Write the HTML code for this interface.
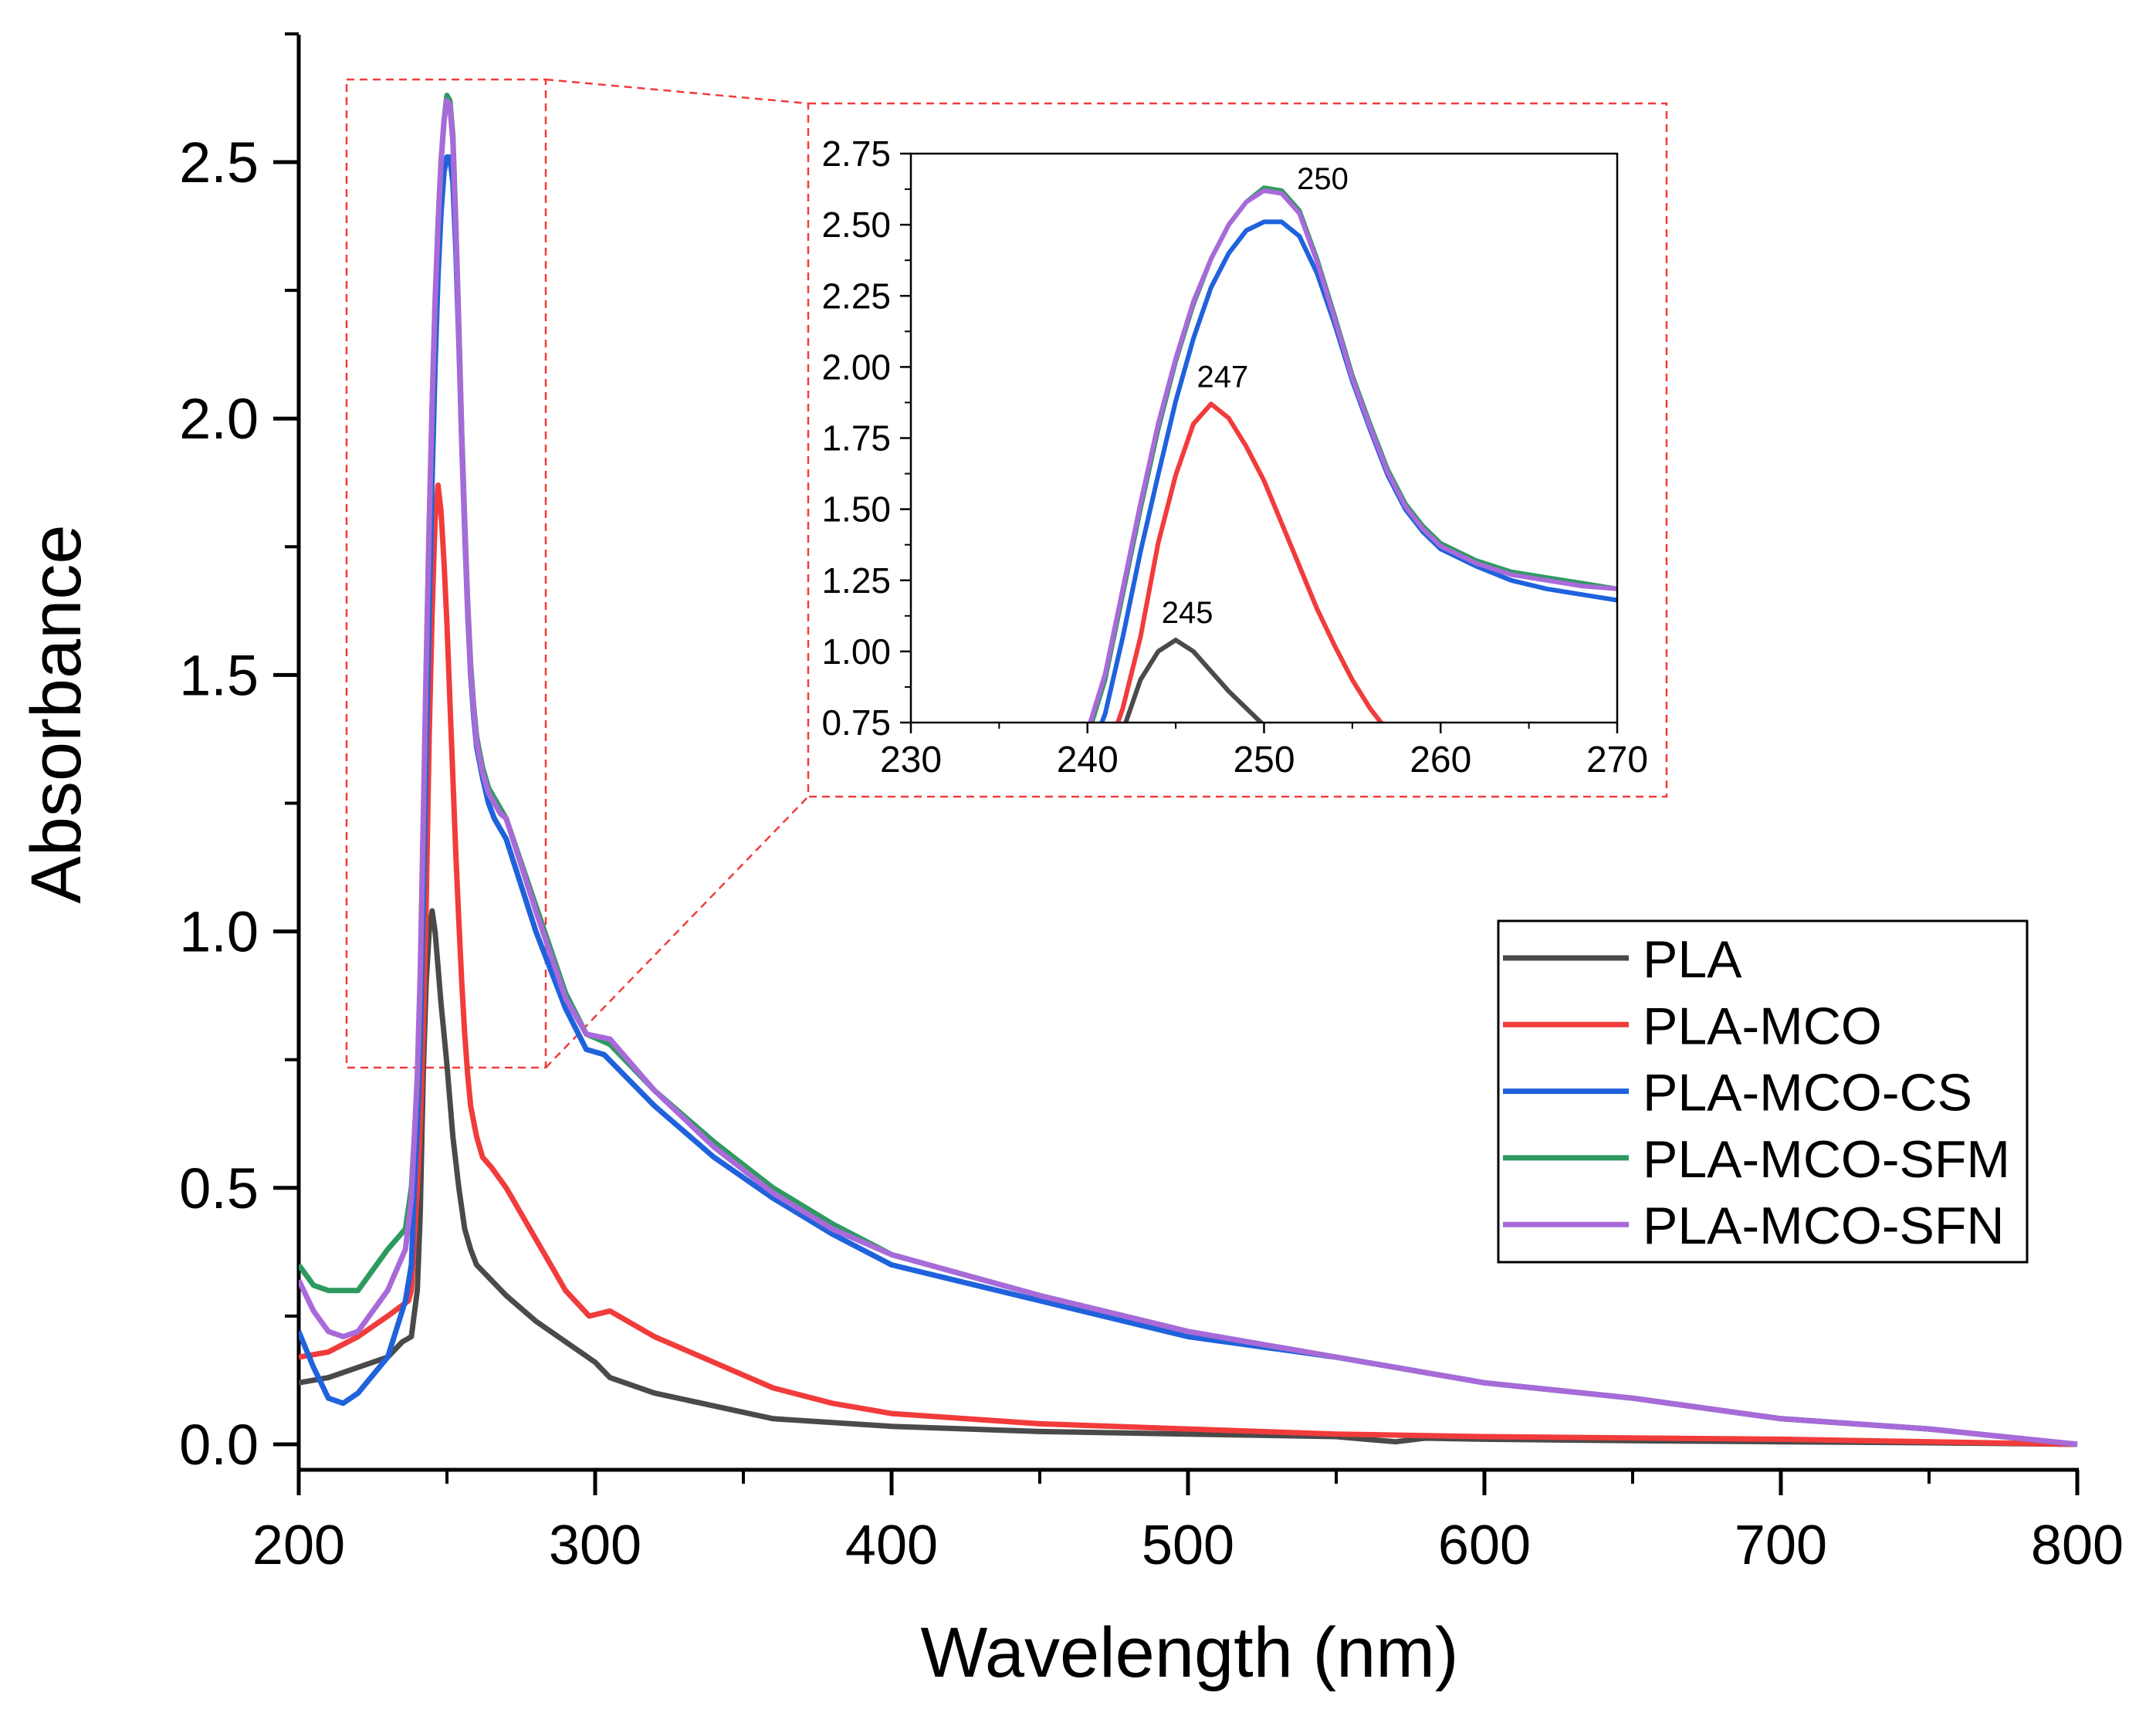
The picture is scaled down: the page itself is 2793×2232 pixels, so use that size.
<!DOCTYPE html>
<html><head><meta charset="utf-8">
<style>
html,body{margin:0;padding:0;background:#fff;}
svg{display:block;font-family:"Liberation Sans",Arial,sans-serif;}
</style></head>
<body>
<svg id="chart" width="2793" height="2232" viewBox="0 0 2793 2232" xmlns="http://www.w3.org/2000/svg">
<defs>
<clipPath id="mainClip"><rect x="387" y="45" width="2305" height="1859"/></clipPath>
<clipPath id="insetClip"><rect x="1180" y="199" width="915" height="737"/></clipPath>
</defs>
<g id="main"></g>
<g id="inset"></g>
<g id="legend"></g>
</svg>
<script>
// ---- Data ----
const seriesNames = ["PLA","PLA-MCO","PLA-MCO-CS","PLA-MCO-SFM","PLA-MCO-SFN"];
const seriesColors = ["#4a4a4a","#f23b3b","#1f62dc","#2e9a60","#a96ad9"];
const wlPLA = [200,210,220,230,235,238,240,241,242,243,244,245,246,247,248,249,250,252,254,256,258,260,270,280,290,300,305,320,340,360,400,450,500,550,570,580,600,650,700,750,800];
const absPLA = [0.12,0.13,0.15,0.17,0.2,0.21,0.3,0.45,0.72,0.9,1.0,1.04,1.0,0.93,0.86,0.8,0.74,0.6,0.5,0.42,0.38,0.35,0.29,0.24,0.2,0.16,0.13,0.1,0.075,0.05,0.035,0.025,0.02,0.015,0.005,0.012,0.01,0.007,0.005,0.003,0.0];
const wlMCO = [200,210,220,230,237,238,240,241,242,243,244,245,246,247,248,249,250,251,252,253,254,255,256,257,258,260,262,265,270,280,290,298,305,320,340,360,380,400,450,500,550,600,700,800];
const absMCO = [0.17,0.18,0.21,0.25,0.28,0.3,0.5,0.62,0.8,1.05,1.38,1.62,1.8,1.87,1.82,1.72,1.6,1.45,1.3,1.15,1.02,0.9,0.8,0.72,0.66,0.6,0.56,0.54,0.5,0.4,0.3,0.25,0.26,0.21,0.16,0.11,0.08,0.06,0.04,0.03,0.02,0.015,0.01,0.0];
const wlCS = [200,205,210,215,220,230,236,238,239,240,241,242,243,244,245,246,247,248,249,250,251,252,253,254,255,256,257,258,259,260,262,264,266,268,270,280,290,297,303,320,340,360,380,400,450,500,550,600,650,700,750,800];
const absCS = [0.22,0.15,0.09,0.08,0.1,0.17,0.28,0.35,0.5,0.62,0.78,1.05,1.35,1.62,1.88,2.1,2.28,2.4,2.48,2.51,2.51,2.46,2.33,2.15,1.95,1.78,1.62,1.5,1.42,1.36,1.3,1.25,1.22,1.2,1.18,1.0,0.85,0.77,0.76,0.66,0.56,0.48,0.41,0.35,0.28,0.21,0.17,0.12,0.09,0.05,0.03,0.0];
const wlSFM = [200,205,210,220,230,236,238,239,240,241,242,243,244,245,246,247,248,249,250,251,252,253,254,255,256,257,258,259,260,262,264,266,268,270,280,290,297,305,320,340,360,380,400,450,500,550,600,650,700,750,800];
const absSFM = [0.35,0.31,0.3,0.3,0.38,0.42,0.5,0.6,0.7,0.9,1.2,1.5,1.78,2.02,2.22,2.38,2.5,2.58,2.63,2.62,2.55,2.38,2.18,1.97,1.8,1.64,1.52,1.44,1.38,1.32,1.28,1.26,1.24,1.22,1.05,0.88,0.8,0.78,0.69,0.59,0.5,0.43,0.37,0.29,0.22,0.17,0.12,0.09,0.05,0.03,0.0];
const wlSFN = [200,205,210,215,220,230,236,238,239,240,241,242,243,244,245,246,247,248,249,250,251,252,253,254,255,256,257,258,259,260,262,264,266,268,270,280,290,297,305,320,340,360,380,400,450,500,550,600,650,700,750,800];
const absSFN = [0.32,0.26,0.22,0.21,0.22,0.3,0.38,0.48,0.6,0.72,0.92,1.22,1.52,1.8,2.03,2.23,2.38,2.5,2.58,2.62,2.61,2.54,2.37,2.17,1.96,1.79,1.63,1.51,1.43,1.37,1.31,1.27,1.25,1.23,1.22,1.04,0.87,0.8,0.79,0.69,0.58,0.49,0.42,0.37,0.29,0.22,0.17,0.12,0.09,0.05,0.03,0.0];
const seriesX = [wlPLA,wlMCO,wlCS,wlSFM,wlSFN];
const seriesY = [absPLA,absMCO,absCS,absSFM,absSFN];
const xTicks = [200,300,400,500,600,700,800];
const yTicks = [0.0,0.5,1.0,1.5,2.0,2.5];
const yTickLabels = ["0.0","0.5","1.0","1.5","2.0","2.5"];
const insetXTicks = [230,240,250,260,270];
const insetYTicks = [0.75,1.0,1.25,1.5,1.75,2.0,2.25,2.5,2.75];
const insetYLabels = ["0.75","1.00","1.25","1.50","1.75","2.00","2.25","2.50","2.75"];
const peakLabels = ["245","247","250"];
const peakX = [245,247,250];
const peakY = [1.04,1.87,2.63];

const NS="http://www.w3.org/2000/svg";
function mk(parent,tag,attrs,txt){const e=document.createElementNS(NS,tag);for(const k in attrs)e.setAttribute(k,attrs[k]);if(txt!==undefined)e.textContent=txt;parent.appendChild(e);return e;}

// ---- Main axes ----
const X0=387,X1=2691,Y0=1871,YT=210,TOP=45,BOT=1904;
const xs=v=>X0+(v-200)/600*(X1-X0);
const ys=v=>Y0-(v/2.5)*(Y0-YT);
const main=document.getElementById('main');
const frame=mk(main,'path',{d:`M${X0} ${TOP} V${BOT} H${X1+2}`,fill:'none',stroke:'#000','stroke-width':5});


xTicks.forEach((t,i)=>{
  const l=mk(main,'line',{x1:xs(t),x2:xs(t),y1:BOT,y2:BOT+33,stroke:'#000','stroke-width':5});
  
  
  const tx=mk(main,'text',{x:xs(t),y:2026,'font-size':72,'text-anchor':'middle'},String(t));
  
  
  if(i<xTicks.length-1){
    const m=mk(main,'line',{x1:xs(t+50),x2:xs(t+50),y1:BOT,y2:BOT+18,stroke:'#000','stroke-width':4});
    
    
  }
});
yTicks.forEach((t,i)=>{
  const l=mk(main,'line',{x1:X0-33,x2:X0,y1:ys(t),y2:ys(t),stroke:'#000','stroke-width':5});
  
  
  const tx=mk(main,'text',{x:X0-52,y:ys(t)+26,'font-size':74,'text-anchor':'end'},yTickLabels[i]);
  
  
  const mv=t+0.25;
  if(mv<=2.75){
    const m=mk(main,'line',{x1:X0-18,x2:X0,y1:ys(mv),y2:ys(mv),stroke:'#000','stroke-width':4});
    
    
  }
});
const xt=mk(main,'text',{x:1541,y:2172,'font-size':92,'text-anchor':'middle'},'Wavelength (nm)');


const yt=mk(main,'text',{x:0,y:0,'font-size':92,'text-anchor':'middle',transform:'translate(104,925) rotate(-90)'},'Absorbance');


const zr=mk(main,'rect',{x:449,y:103,width:258,height:1280,fill:'none',stroke:'#f23b3b','stroke-width':2.5,'stroke-dasharray':'10 7'});


const c1=mk(main,'line',{x1:707,y1:103,x2:1047,y2:134,stroke:'#f23b3b','stroke-width':2.5,'stroke-dasharray':'10 7'});


const c2=mk(main,'line',{x1:707,y1:1383,x2:1047,y2:1032,stroke:'#f23b3b','stroke-width':2.5,'stroke-dasharray':'10 7'});


const mg=mk(main,'g',{'clip-path':'url(#mainClip)'});
seriesNames.forEach((n,i)=>{
  const pts=seriesX[i].map((x,j)=>xs(x).toFixed(1)+','+ys(seriesY[i][j]).toFixed(1)).join(' ');
  const p=mk(mg,'polyline',{points:pts,fill:'none',stroke:seriesColors[i],'stroke-width':7,'stroke-linejoin':'round'});
  
  
});

// ---- Inset ----
const IX0=1180,IX1=2095,IY0=936,IY1=199;
const ixs=v=>IX0+(v-230)/40*(IX1-IX0);
const iys=v=>IY0-(v-0.75)/2*(IY0-IY1);
const inset=document.getElementById('inset');
const ib=mk(inset,'rect',{x:1047,y:134,width:1112,height:898,fill:'#fff',stroke:'#f23b3b','stroke-width':2.5,'stroke-dasharray':'10 7'});


const ig=mk(inset,'g',{'clip-path':'url(#insetClip)'});
seriesNames.forEach((n,i)=>{
  const pts=seriesX[i].map((x,j)=>ixs(x).toFixed(1)+','+iys(seriesY[i][j]).toFixed(1)).join(' ');
  const p=mk(ig,'polyline',{points:pts,fill:'none',stroke:seriesColors[i],'stroke-width':6,'stroke-linejoin':'round'});
  
  
});
const ifr=mk(inset,'rect',{x:IX0,y:IY1,width:IX1-IX0,height:IY0-IY1,fill:'none',stroke:'#000','stroke-width':2.5});


insetXTicks.forEach((t,i)=>{
  const l=mk(inset,'line',{x1:ixs(t),x2:ixs(t),y1:IY0,y2:IY0+14,stroke:'#000','stroke-width':2.5});
  
  
  const tx=mk(inset,'text',{x:ixs(t),y:IY0+64,'font-size':48,'text-anchor':'middle'},String(t));
  
  
  if(i<insetXTicks.length-1){
    const m=mk(inset,'line',{x1:ixs(t+5),x2:ixs(t+5),y1:IY0,y2:IY0+8,stroke:'#000','stroke-width':2});
    
    
  }
});
insetYTicks.forEach((t,i)=>{
  const l=mk(inset,'line',{x1:IX0-14,x2:IX0,y1:iys(t),y2:iys(t),stroke:'#000','stroke-width':2.5});
  
  
  const tx=mk(inset,'text',{x:IX0-26,y:iys(t)+16,'font-size':46,'text-anchor':'end'},insetYLabels[i]);
  
  
  if(i<insetYTicks.length-1){
    const m=mk(inset,'line',{x1:IX0-8,x2:IX0,y1:iys(t+0.125),y2:iys(t+0.125),stroke:'#000','stroke-width':2});
    
    
  }
});
peakLabels.forEach((s,i)=>{
  const dx=i===2?76:15;
  const dy=i===2?2:-22;
  const tx=mk(inset,'text',{x:ixs(peakX[i])+dx,y:iys(peakY[i])+dy,'font-size':40,'text-anchor':'middle'},s);
  
  
});

// ---- Legend ----
const lg=document.getElementById('legend');
const lb=mk(lg,'rect',{x:1941,y:1193,width:685,height:442,fill:'#fff',stroke:'#000','stroke-width':3});


seriesNames.forEach((n,i)=>{
  const y=1241+i*86.3;
  const l=mk(lg,'line',{x1:1947,x2:2110,y1:y,y2:y,stroke:seriesColors[i],'stroke-width':7});
  
  
  const t=mk(lg,'text',{x:2128,y:y+25,'font-size':68},n);
  
  
});
</script>
</body></html>
